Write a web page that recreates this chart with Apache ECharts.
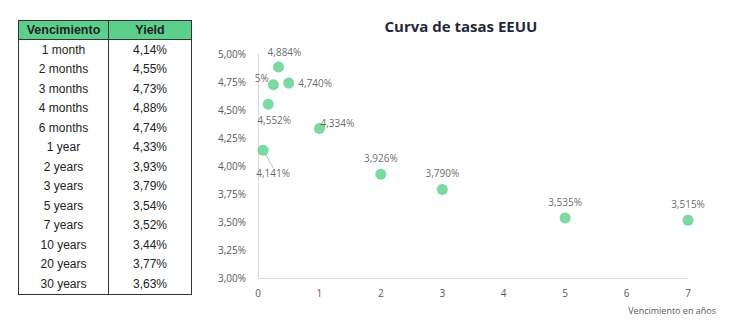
<!DOCTYPE html>
<html><head><meta charset="utf-8">
<script src="https://cdn.jsdelivr.net/npm/echarts@6/dist/echarts.min.js"></script>
<style>
html,body{margin:0;padding:0;background:#fff;}
#wrap{position:relative;width:730px;height:328px;}
#chart{position:absolute;left:0;top:0;width:730px;height:328px;}
#tbl{position:absolute;left:18px;top:20px;border-collapse:collapse;border:1px solid #333;font-family:"Liberation Sans",Arial,sans-serif;font-size:12px;color:#222;}
#tbl th{background:#5dcf8d;font-weight:bold;height:18px;padding:0;border-bottom:1px solid #333;font-size:12.5px;}
#tbl td{height:19.5px;padding:0;text-align:center;}
#tbl .c1{width:89px;border-right:1px solid #333;}
#tbl .c2{width:82px;}
</style></head>
<body><div id="wrap"><table id="tbl"></table><div id="chart"></div></div>
<script>
// Table data
var tableMaturities = ["1 month","2 months","3 months","4 months","6 months","1 year","2 years","3 years","5 years","7 years","10 years","20 years","30 years"];
var tableYields = ["4,14%","4,55%","4,73%","4,88%","4,74%","4,33%","3,93%","3,79%","3,54%","3,52%","3,44%","3,77%","3,63%"];
// Scatter data (maturity in years, yield %)
var maturityYears = [1/12, 2/12, 3/12, 4/12, 6/12, 1, 2, 3, 5, 7];
var yieldValues = [4.141, 4.552, 4.725, 4.884, 4.740, 4.334, 3.926, 3.790, 3.535, 3.515];
var yTicks = [3.00, 3.25, 3.50, 3.75, 4.00, 4.25, 4.50, 4.75, 5.00];
var xTicks = [0,1,2,3,4,5,6,7];

var t = document.getElementById('tbl');
var h = '<tr><th class="c1">Vencimiento</th><th class="c2">Yield</th></tr>';
for (var i=0;i<tableMaturities.length;i++){
  h += '<tr><td class="c1">'+tableMaturities[i]+'</td><td class="c2">'+tableYields[i]+'</td></tr>';
}
t.innerHTML = h;

function fmt(v){ return v.toFixed(3).replace('.',',')+'%'; }
// label layout offsets per point
var lab = [
  {pos:'bottom', dx:10, dy:8, line:true},
  {pos:'bottom', dx:6, dy:1},
  {pos:'left', dx:5, dy:-7, clip:true},
  {pos:'top', dx:6, dy:0},
  {pos:'right', dx:0, dy:0},
  {pos:'top', dx:18, dy:9},
  {pos:'top', dx:0, dy:-2},
  {pos:'top', dx:0, dy:-2},
  {pos:'top', dx:0, dy:-2},
  {pos:'top', dx:0, dy:-2}
];
var data = maturityYears.map(function(x,i){
  var L = lab[i];
  var txt = fmt(yieldValues[i]);
  if (L.clip) txt = txt.slice(-2);
  return {value:[x, yieldValues[i]], label:{position:L.pos, formatter: txt},
    labelLine:{show: !!L.line}};
});

var chart = echarts.init(document.getElementById('chart'), null, {renderer:'svg'});
chart.setOption({
  animation:false,
  title:{text:'Curva de tasas EEUU', left:456, top:13, textAlign:'center',
    textStyle:{fontFamily:'Open Sans', fontWeight:'bold', fontSize:15, color:'#1f2a38'}},
  grid:{left:258, right:42, top:54, bottom:50},
  xAxis:{type:'value', min:0, max:7, interval:1,
    axisLine:{show:true, lineStyle:{color:'#d9d9d9', width:1}},
    axisTick:{show:false}, splitLine:{show:false},
    axisLabel:{color:'#595959', fontFamily:'Open Sans', fontSize:10, margin:10}},
  yAxis:{type:'value', min:3, max:5, interval:0.25,
    axisLine:{show:true, lineStyle:{color:'#d9d9d9', width:1}},
    axisTick:{show:false}, splitLine:{show:false},
    axisLabel:{color:'#595959', fontFamily:'Open Sans', fontSize:10, margin:12,
      formatter:function(v){return v.toFixed(2).replace('.',',')+'%';}}},
  graphic:[{type:'text', right:14, top:306, style:{text:'Vencimiento en años', fill:'#595959', font:'9px "Open Sans"'}}],
  series:[{type:'scatter', data:data, symbolSize:11, itemStyle:{color:'#5ccf8b'},
    label:{show:true, color:'#404040', fontFamily:'Open Sans', fontSize:10, distance:4},
    labelLine:{show:false, lineStyle:{color:'#bfbfbf', width:1}},
    labelLayout:function(p){ var L=lab[p.dataIndex]; return {dx:L.dx, dy:L.dy}; }
  }]
});
</script></body></html>
